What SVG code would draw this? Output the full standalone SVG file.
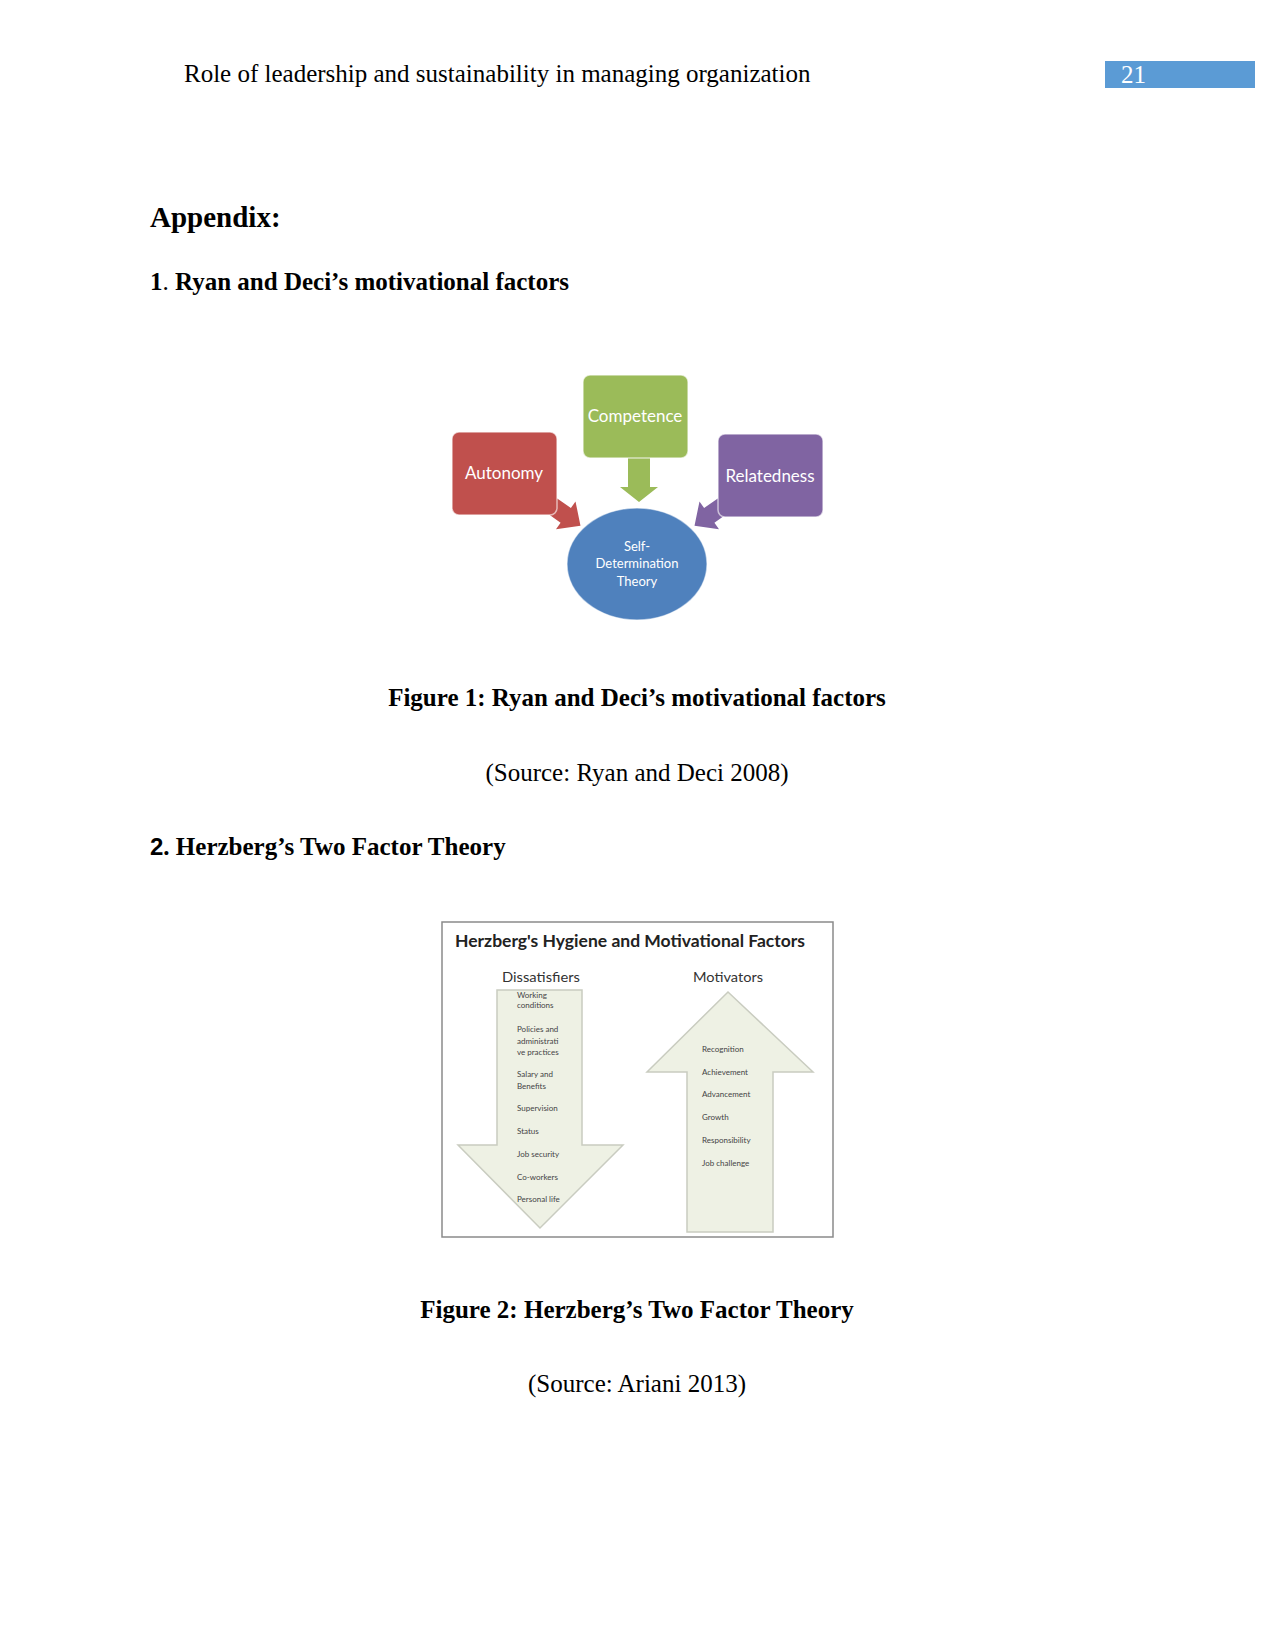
<svg xmlns="http://www.w3.org/2000/svg" width="1275" height="1651" viewBox="0 0 1275 1651">
<style>
.serif{font-family:"Liberation Serif","Times New Roman",serif;font-size:25px;fill:#000}
.b{font-weight:bold}
.box{stroke:#ffffff;stroke-opacity:0.6;stroke-width:1.5}
.bt{font-family:Lato,"Open Sans",sans-serif;font-size:17px;fill:#fff;text-anchor:middle}
.et{font-family:Lato,"Open Sans",sans-serif;font-size:13px;fill:#fff;text-anchor:middle}
.harrow{fill:#eef1e4;stroke:#c9ccc0;stroke-width:1.5}
.st{font-family:Lato,"Open Sans",sans-serif;font-size:8px;fill:#444}
.hd{font-family:Lato,"Open Sans",sans-serif;font-size:14px;fill:#333}
</style>
<defs>
<path id="blk" d="M0,-9 L18,-9 L18,-17 L36,0 L18,17 L18,9 L0,9 Z"/>
</defs>
<rect width="1275" height="1651" fill="#fff"/>

<g id="header">
<text class="serif" x="184" y="82">Role of leadership and sustainability in managing organization</text>
<rect x="1105" y="61" width="150" height="27" fill="#5b9bd5"/>
<text class="serif" x="1121" y="83" style="fill:#fff">21</text>
</g>

<g id="headings">
<text class="serif b" x="150" y="227" style="font-size:29px">Appendix:</text>
<text class="serif" x="150" y="290"><tspan class="b">1</tspan>. <tspan class="b">Ryan and Deci’s motivational factors</tspan></text>
<text class="serif b" x="637" y="706" text-anchor="middle">Figure 1: Ryan and Deci’s motivational factors</text>
<text class="serif" x="637" y="781" text-anchor="middle">(Source: Ryan and Deci 2008)</text>
<text class="serif b" x="150" y="855"><tspan style="font-family:'Liberation Sans',Arial,sans-serif;font-size:24px">2</tspan>. Herzberg’s Two Factor Theory</text>
<text class="serif b" x="637" y="1318" text-anchor="middle">Figure 2: Herzberg’s Two Factor Theory</text>
<text class="serif" x="637" y="1392" text-anchor="middle">(Source: Ariani 2013)</text>
</g>

<g id="connectors">
<use href="#blk" fill="#c0504d" transform="translate(551,505) rotate(35)"/>
<use href="#blk" fill="#8064a2" transform="translate(724,505) rotate(145)"/>
<path d="M628,458 L650,458 L650,487 L658,487 L639,502 L620,487 L628,487 Z" fill="#9bbb59"/>
</g>

<g id="autonomy">
<rect class="box" x="452" y="432" width="105" height="83" rx="7" fill="#c0504d"/>
<text class="bt" x="504" y="479">Autonomy</text>
</g>
<g id="competence">
<rect class="box" x="583" y="375" width="105" height="83" rx="7" fill="#9bbb59"/>
<text class="bt" x="635" y="422">Competence</text>
</g>
<g id="relatedness">
<rect class="box" x="718" y="434" width="105" height="83" rx="7" fill="#8064a2"/>
<text class="bt" x="770" y="482">Relatedness</text>
</g>
<g id="sdt">
<ellipse cx="637" cy="564" rx="70" ry="56" fill="#4f81bd" stroke="#fff" stroke-opacity="0.5" stroke-width="1.5"/>
<text class="et" x="637" y="551">Self-</text>
<text class="et" x="637" y="568">Determination</text>
<text class="et" x="637" y="586">Theory</text>
</g>

<g id="herzberg">
<rect x="442" y="922" width="391" height="315" fill="#fff" stroke="#8a8a8a" stroke-width="1.5"/>
<text x="455" y="947" textLength="350" lengthAdjust="spacingAndGlyphs" style="font-family:Lato,'Open Sans',sans-serif;font-size:17px;font-weight:bold;fill:#222">Herzberg's Hygiene and Motivational Factors</text>
<text class="hd" x="502" y="982" textLength="78" lengthAdjust="spacingAndGlyphs">Dissatisfiers</text>
<text class="hd" x="693" y="982" textLength="70" lengthAdjust="spacingAndGlyphs">Motivators</text>
</g>

<g id="dissatisfiers">
<path class="harrow" d="M497,990 L582,990 L582,1145 L623,1145 L540,1228 L458,1145 L497,1145 Z"/>
<text class="st" x="517" y="998">Working</text>
<text class="st" x="517" y="1008">conditions</text>
<text class="st" x="517" y="1032">Policies and</text>
<text class="st" x="517" y="1044">administrati</text>
<text class="st" x="517" y="1055">ve practices</text>
<text class="st" x="517" y="1077">Salary and</text>
<text class="st" x="517" y="1089">Benefits</text>
<text class="st" x="517" y="1111">Supervision</text>
<text class="st" x="517" y="1134">Status</text>
<text class="st" x="517" y="1157">Job security</text>
<text class="st" x="517" y="1180">Co-workers</text>
<text class="st" x="517" y="1202">Personal life</text>
</g>

<g id="motivators">
<path class="harrow" d="M728,992 L813,1072 L773,1072 L773,1232 L687,1232 L687,1072 L647,1072 Z"/>
<text class="st" x="702" y="1052">Recognition</text>
<text class="st" x="702" y="1075">Achievement</text>
<text class="st" x="702" y="1097">Advancement</text>
<text class="st" x="702" y="1120">Growth</text>
<text class="st" x="702" y="1143">Responsibility</text>
<text class="st" x="702" y="1166">Job challenge</text>
</g>
</svg>
